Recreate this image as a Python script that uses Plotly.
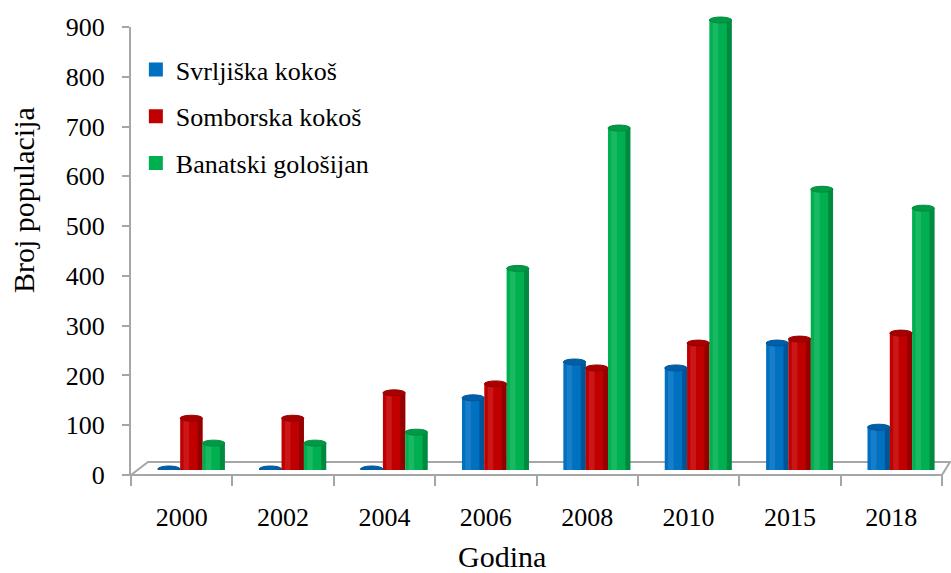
import plotly.graph_objects as go

# Population counts by year for three indigenous Serbian chicken breeds
years = ["2000", "2002", "2004", "2006", "2008", "2010", "2015", "2018"]
svrljiska = [2, 2, 2, 145, 217, 205, 255, 86]
somborska = [104, 104, 155, 173, 205, 255, 263, 275]
banatski = [54, 54, 76, 405, 687, 904, 564, 526]

series_names = ["Svrljiška kokoš", "Somborska kokoš", "Banatski gološijan"]
series_values = [svrljiska, somborska, banatski]
# (edge shade, body colour, highlight, cap colour)
palettes = [
    ("#005596", "#0070C0", "#3d94d8", "#005fa8"),
    ("#940000", "#C00000", "#d93a3a", "#a80000"),
    ("#008a40", "#00B050", "#3cc97c", "#009a46"),
]

BAR_W = 0.22
OFFSETS = [-0.235, -0.015, 0.205]
FONT = "Liberation Serif, Times New Roman, serif"
GREY = "#a6a6a6"
PLOT_H = 573 - 10 - 98
PLOT_W = 951 - 131 - 9
PX_PER_UNIT = 448 / 900
Y2_TOP = 920  # headroom so the tallest cylinder cap is not clipped

fig = go.Figure()
shapes = []

# carrier trace so the value axis is drawn
fig.add_scatter(x=years, y=[None] * len(years), yaxis="y", mode="markers",
                showlegend=False, hoverinfo="skip")

for k, (name, vals, pal) in enumerate(zip(series_names, series_values, palettes)):
    edge, body, light, cap = pal
    off = OFFSETS[k]
    # cylinder body
    fig.add_bar(x=years, y=vals, name=name, legendgroup=name, yaxis="y2",
                width=BAR_W, offset=off, cliponaxis=False, showlegend=False,
                marker=dict(color=body, line=dict(width=0)))
    # darker shaded right edge
    fig.add_bar(x=years, y=vals, legendgroup=name, yaxis="y2", showlegend=False,
                width=BAR_W * 0.22, offset=off + BAR_W * 0.78, hoverinfo="skip",
                cliponaxis=False, marker=dict(color=edge, line=dict(width=0)))
    # soft highlight band on the left
    fig.add_bar(x=years, y=vals, legendgroup=name, yaxis="y2", showlegend=False,
                width=BAR_W * 0.25, offset=off + BAR_W * 0.15, hoverinfo="skip",
                cliponaxis=False, marker=dict(color=light, opacity=0.4, line=dict(width=0)))
    # square legend swatch
    fig.add_scatter(x=[None], y=[None], name=name, legendgroup=name, yaxis="y2",
                    mode="markers", marker=dict(symbol="square", size=14, color=body),
                    showlegend=True)
    # elliptical cylinder tops
    for i, v in enumerate(vals):
        shapes.append(dict(type="circle", xref="x", yref="y2",
                           x0=i + off, x1=i + off + BAR_W, y0=v - 6, y1=v + 6,
                           fillcolor=cap, line=dict(color=edge, width=1), layer="above"))

# 3D floor of the chart (paper coordinates over the plot area)
floor_depth_y = 13 / PLOT_H
floor_dx = 17 / PLOT_W
floor_rx = 8 / PLOT_W
shapes.append(dict(type="path", xref="paper", yref="paper", layer="below",
                   path=f"M 0,0 L {floor_dx},{floor_depth_y} L {1 + floor_rx},{floor_depth_y} L 1,0 Z",
                   fillcolor="white", line=dict(color=GREY, width=2)))

fig.update_layout(
    width=951, height=573,
    margin=dict(l=131, r=9, t=10, b=98),
    paper_bgcolor="white", plot_bgcolor="rgba(0,0,0,0)",
    barmode="overlay",
    font=dict(family=FONT, color="black", size=26),
    shapes=shapes,
    showlegend=True,
    legend=dict(x=0.006, y=(475 - 46) / PLOT_H, xanchor="left", yanchor="top",
                font=dict(family=FONT, size=26, color="black"),
                bgcolor="rgba(0,0,0,0)", traceorder="grouped", tracegroupgap=10,
                itemwidth=30),
    xaxis=dict(type="category", categoryorder="array", categoryarray=years,
               range=[-0.5, 7.5], showgrid=False, zeroline=False, showline=False,
               ticks="outside", tickson="boundaries", ticklen=10, tickwidth=2,
               tickcolor=GREY, ticklabelstandoff=24, automargin=False,
               tickfont=dict(family=FONT, size=26, color="black")),
    yaxis=dict(range=[0, 900], domain=[0, 448 / PLOT_H], dtick=100,
               showgrid=False, zeroline=False, showline=True, linecolor=GREY,
               linewidth=2, ticks="outside", ticklen=7, tickwidth=2, tickcolor=GREY,
               ticklabelstandoff=12, automargin=False,
               tickfont=dict(family=FONT, size=26, color="black")),
    yaxis2=dict(range=[0, Y2_TOP],
                domain=[5 / PLOT_H, (5 + Y2_TOP * PX_PER_UNIT) / PLOT_H], anchor="x",
                visible=False, showgrid=False, zeroline=False),
    annotations=[
        dict(text="Godina", xref="paper", yref="paper",
             x=(502 - 131) / PLOT_W, y=-(556 - 475) / PLOT_H,
             xanchor="center", yanchor="middle", showarrow=False,
             font=dict(family=FONT, size=30, color="black")),
        dict(text="Broj populacija", xref="paper", yref="paper", textangle=-90,
             x=-(131 - 23) / PLOT_W, y=(475 - 200) / PLOT_H,
             xanchor="center", yanchor="middle", showarrow=False,
             font=dict(family=FONT, size=30, color="black")),
    ],
)

fig.write_html("out.html")
